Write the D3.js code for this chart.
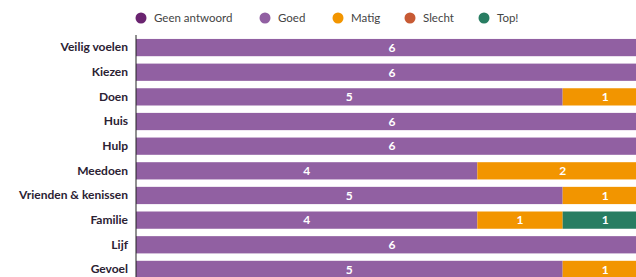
<!DOCTYPE html>
<html>
<head>
<meta charset="utf-8">
<script src="https://cdn.jsdelivr.net/npm/d3@7"></script>
<style>
  body { margin: 0; background: #fff; }
  svg { font-family: "Lato", "DejaVu Sans", sans-serif; }
</style>
</head>
<body>
<svg id="chart" width="636" height="277"></svg>
<script>
// data
const categories = ['Veilig voelen', 'Kiezen', 'Doen', 'Huis', 'Hulp', 'Meedoen', 'Vrienden & kenissen', 'Familie', 'Lijf', 'Gevoel']
const seriesNames = ['Geen antwoord', 'Goed', 'Matig', 'Slecht', 'Top!']
const geenAntwoordVals = [0, 0, 0, 0, 0, 0, 0, 0, 0, 0]
const goedVals = [6, 6, 5, 6, 6, 4, 5, 4, 6, 5]
const matigVals = [0, 0, 1, 0, 0, 2, 1, 1, 0, 1]
const slechtVals = [0, 0, 0, 0, 0, 0, 0, 0, 0, 0]
const topVals = [0, 0, 0, 0, 0, 0, 0, 1, 0, 0]
const colors = ['#6a2470', '#9160a2', '#f29500', '#c75a34', '#287d62']

const svg = d3.select('#chart')

const rows = categories.map((c, i) => ({
  cat: c,
  'Geen antwoord': geenAntwoordVals[i],
  'Goed': goedVals[i],
  'Matig': matigVals[i],
  'Slecht': slechtVals[i],
  'Top!': topVals[i]
}))

const stack = d3.stack().keys(seriesNames)(rows)

const x = d3.scaleLinear().domain([0, 6]).range([136, 648])
const y = d3.scaleBand().domain(categories).range([35, 282]).paddingInner(0.3).paddingOuter(0.16)
const color = d3.scaleOrdinal().domain(seriesNames).range(colors)

// bars
const layers = svg.selectAll('g.layer')
  .data(stack)
  .enter()
  .append('g')
  .attr('class', 'layer')
  .attr('fill', d => color(d.key))

layers.selectAll('rect')
  .data(d => d.filter(s => s[1] - s[0] > 0))
  .enter()
  .append('rect')
  .attr('x', d => x(d[0]))
  .attr('y', d => y(d.data.cat))
  .attr('width', d => x(d[1]) - x(d[0]))
  .attr('height', y.bandwidth())

layers.selectAll('text')
  .data(d => d.filter(s => s[1] - s[0] > 0))
  .enter()
  .append('text')
  .attr('x', d => (x(d[0]) + x(d[1])) / 2)
  .attr('y', d => y(d.data.cat) + y.bandwidth() / 2)
  .attr('dy', '0.36em')
  .attr('text-anchor', 'middle')
  .attr('fill', '#fff')
  .style('font-size', '12px')
  .style('font-weight', 700)
  .text(d => d[1] - d[0])

// y axis
const yAxis = svg.append('g')
  .attr('transform', 'translate(136,0)')
  .call(d3.axisLeft(y).tickSize(0).tickPadding(8))
yAxis.select('.domain').attr('stroke', '#222').attr('d', 'M0,35V282')
yAxis.selectAll('text')
  .style('font-size', '12px')
  .style('font-weight', 700)
  .style('font-family', 'Lato, sans-serif')
  .attr('fill', '#2b2233')

// legend
const legendX = [141, 265, 338, 410, 484]
const legend = svg.selectAll('g.legend')
  .data(seriesNames)
  .enter()
  .append('g')
  .attr('class', 'legend')
  .attr('transform', (d, i) => `translate(${legendX[i]}, 18)`)

legend.append('circle')
  .attr('r', 5.5)
  .attr('fill', d => color(d))

legend.append('text')
  .attr('x', 13)
  .attr('dy', '0.35em')
  .style('font-size', '11.5px')
  .attr('fill', '#444')
  .text(d => d)
</script>
</body>
</html>
